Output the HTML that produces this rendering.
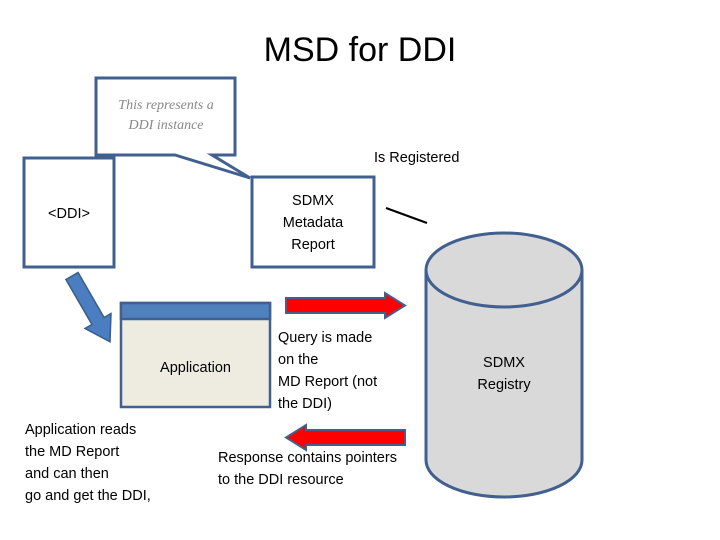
<!DOCTYPE html>
<html><head><style>
body{margin:0;width:720px;height:540px;background:#fff;font-family:"Liberation Sans",sans-serif;overflow:hidden;position:relative}
.t{position:absolute;font-size:14.5px;color:#000;line-height:22px;white-space:nowrap}
</style></head><body>
<svg width="720" height="540" style="position:absolute;left:0;top:0">
<path d="M96,78 H235 V155 H212 L250,178 L175,155 H96 Z" fill="#fff" stroke="#41608f" stroke-width="3"/>
<rect x="24" y="158" width="90" height="109" fill="#fff" stroke="#41608f" stroke-width="3"/>
<rect x="252" y="177" width="122" height="90" fill="#fff" stroke="#41608f" stroke-width="3"/>
<line x1="386" y1="208" x2="427" y2="223" stroke="#000" stroke-width="2"/>
<g transform="translate(72,276) rotate(60)">
<path d="M0,-7 H52 V-15 L76,0 L52,15 V7 H0 Z" fill="#4a7ec0" stroke="#385d8a" stroke-width="1.5"/>
</g>
<rect x="121" y="303" width="149" height="104" fill="#eeece1" stroke="#41608f" stroke-width="2.5"/>
<rect x="121" y="303" width="149" height="16" fill="#4f81bd" stroke="#41608f" stroke-width="2.5"/>
<path d="M286,298 H385 V293 L405,305.5 L385,318 V313 H286 Z" fill="#f00" stroke="#41608f" stroke-width="2"/>
<path d="M405,430 H306 V425 L286,437.5 L306,450 V445 H405 Z" fill="#f00" stroke="#41608f" stroke-width="2"/>
<path d="M426,270 V460 A78,37 0 0 0 582,460 V270" fill="#d9d9d9" stroke="#41608f" stroke-width="3"/>
<ellipse cx="504" cy="270" rx="78" ry="37" fill="#d9d9d9" stroke="#41608f" stroke-width="3"/>
</svg>
<div class="t" style="left:0;width:720px;text-align:center;top:28px;font-size:34px;line-height:44px">MSD for DDI</div>
<div class="t" style="left:96px;width:140px;text-align:center;top:96px;font-family:'Liberation Serif',serif;font-style:italic;font-size:14px;color:#888;line-height:20px">This represents a<br>DDI instance</div>
<div class="t" style="left:374px;top:147px">Is Registered</div>
<div class="t" style="left:24px;width:90px;text-align:center;top:203px">&lt;DDI&gt;</div>
<div class="t" style="left:252px;width:122px;text-align:center;top:190px">SDMX<br>Metadata<br>Report</div>
<div class="t" style="left:121px;width:149px;text-align:center;top:357px">Application</div>
<div class="t" style="left:278px;top:327px">Query is made<br>on the<br>MD Report (not<br>the DDI)</div>
<div class="t" style="left:426px;width:156px;text-align:center;top:352px">SDMX<br>Registry</div>
<div class="t" style="left:25px;top:419px">Application reads<br>the MD Report<br>and can then<br>go and get the DDI,</div>
<div class="t" style="left:218px;top:447px">Response contains pointers<br>to the DDI resource</div>
</body></html>
